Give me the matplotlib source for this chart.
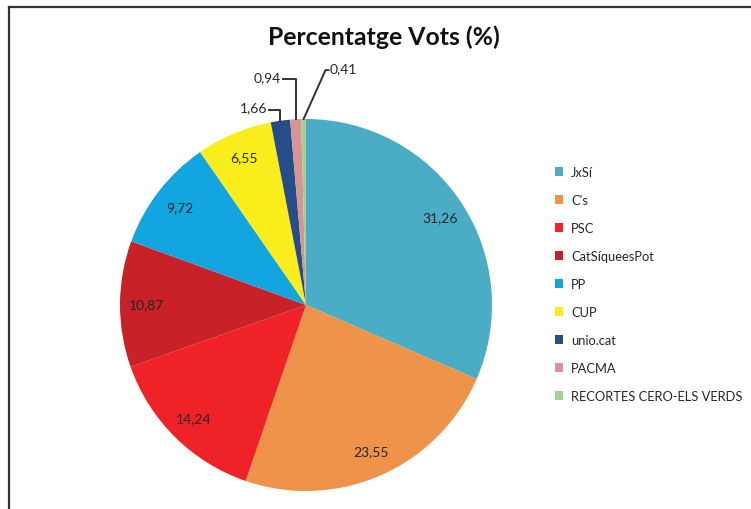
import matplotlib.pyplot as plt
from matplotlib.lines import Line2D
import numpy as np

plt.rcParams['font.family'] = ['Lato', 'DejaVu Sans']

parties = ['JxSí', "C's", 'PSC', 'CatSíqueesPot', 'PP', 'CUP',
           'unio.cat', 'PACMA', 'RECORTES CERO-ELS VERDS']
vots = [31.26, 23.55, 14.24, 10.87, 9.72, 6.55, 1.66, 0.94, 0.41]
colors = ['#4BACC6', '#F0934A', '#EE2227', '#C82127', '#12A5E0',
          '#F9ED1C', '#264D85', '#D69595', '#A8CE94']

# leader lines for the thin slices: (dx bend, dx end, dy) from the rim point
callouts = {6: (0.0, -0.06, 0.06), 7: (0.0, -0.07, 0.215), 8: (0.118, 0.134, 0.263)}

W, H = 751, 510
fig = plt.figure(figsize=(W / 100, H / 100), dpi=100)

cx, cy, r = 306, 306, 186
ax = fig.add_axes([(cx - r) / W, (H - cy - r) / H, 2 * r / W, 2 * r / H])
wedges, _ = ax.pie(vots, colors=colors, startangle=90, counterclock=False,
                   radius=1, wedgeprops=dict(linewidth=0))
ax.set_xlim(-1, 1)
ax.set_ylim(-1, 1)
ax.set_aspect('auto')
ax.axis('off')

for i, (w, v) in enumerate(zip(wedges, vots)):
    txt = f'{v:.2f}'.replace('.', ',')
    ang = np.deg2rad((w.theta1 + w.theta2) / 2)
    if i in callouts:
        bx, ex, dy = callouts[i]
        x0, y0 = np.cos(ang), np.sin(ang)
        xs = [x0, x0 + bx, x0 + ex]
        ys = [y0, y0 + dy, y0 + dy]
        ax.plot(xs, ys, color='#333333', lw=1.4, clip_on=False)
        ha = 'left' if ex > bx else 'right'
        off = 0.008 if ex > bx else -0.008
        ax.text(x0 + ex + off, y0 + dy + 0.012, txt, ha=ha, va='center',
                fontsize=10, color='#262626')
    else:
        d = 0.86
        ax.text(d * np.cos(ang), d * np.sin(ang), txt, ha='center', va='center',
                fontsize=10, color='#262626')

fig.text(384 / W, 1 - 37 / H, 'Percentatge Vots (%)', ha='center', va='center',
         fontsize=17.8, fontweight='bold', color='#111111')

fig.legend(wedges, parties, loc='upper left', bbox_to_anchor=(555 / W, 1 - 167 / H),
           frameon=False, fontsize=9.3, handlelength=0.65, handleheight=0.65,
           handletextpad=0.6, labelspacing=1.24, borderpad=0, borderaxespad=0,
           labelcolor='#262626')

fig.add_artist(Line2D([9 / W, 9 / W], [0, 1 - 8 / H], transform=fig.transFigure,
                      color='#333333', lw=1.6))
fig.add_artist(Line2D([9 / W, 1], [1 - 8 / H, 1 - 8 / H], transform=fig.transFigure,
                      color='#333333', lw=1.6))

fig.savefig('out.png', dpi=100)
